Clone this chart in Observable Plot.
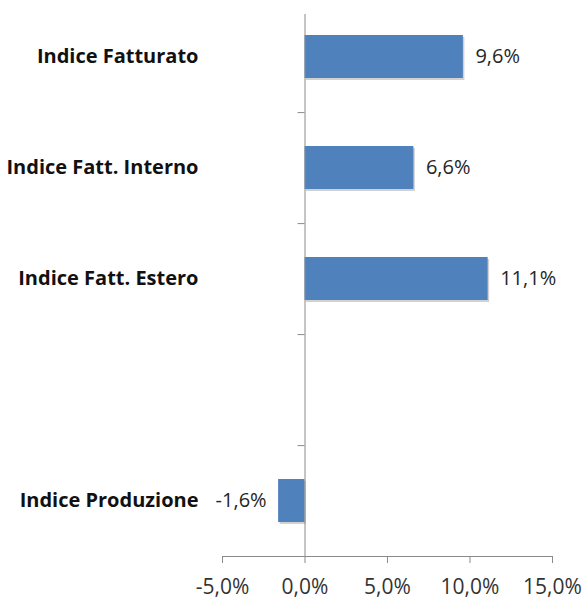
<!DOCTYPE html>
<html><head><meta charset="utf-8">
<script src="https://cdn.jsdelivr.net/npm/d3@7"></script>
<script src="https://cdn.jsdelivr.net/npm/@observablehq/plot@0.6"></script>
<style>body{margin:0;background:#fff;} svg{display:block;}</style>
</head><body><div id="chart"></div>
<script>
const categories = ["Indice Fatturato", "Indice Fatt. Interno", "Indice Fatt. Estero", " ", "Indice Produzione"];
const values = [9.6, 6.6, 11.1, null, -1.6];
const valueLabels = ["9,6%", "6,6%", "11,1%", "", "-1,6%"];
const xTicks = [-5, 0, 5, 10, 15];

const data = categories.map((c, i) => ({cat: c, v: values[i], lab: valueLabels[i]})).filter(d => d.v !== null);
const font = "'Open Sans', sans-serif";
const fmt = d => d.toFixed(1).replace(".", ",") + "%";

const chart = Plot.plot({
  width: 583, height: 599,
  marginLeft: 222, marginRight: 31, marginTop: 0, marginBottom: 43,
  style: {fontFamily: font, fontSize: "20px", background: "#fff", overflow: "visible"},
  x: {domain: [-5, 15], ticks: xTicks, tickFormat: fmt},
  y: {domain: categories, padding: 0},
  marks: [
    Plot.barX(data, {x: "v", y: "cat", fill: "#9a9a9a", fillOpacity: 0.45, insetTop: 34, insetBottom: 34, dx: 1.5, dy: 2}),
    Plot.barX(data, {x: "v", y: "cat", fill: "#4f81bd", insetTop: 34, insetBottom: 34}),
    Plot.ruleX([0], {stroke: "#8a8a8a", insetTop: 14}),
    Plot.ruleY(categories.slice(0, 4), {y: d => d, x1: -0.42, x2: 0, dy: 55.6, stroke: "#8a8a8a"}),
    Plot.frame({anchor: "bottom", stroke: "#8a8a8a"}),
    Plot.axisX({ticks: xTicks, tickFormat: fmt, tickSize: 7, tickPadding: 16, stroke: "#8a8a8a", fill: "#333", fontSize: 21, fontFamily: font, label: null}),
    Plot.axisY({tickSize: 0, tickPadding: 24, fill: "#111", fontWeight: "bold", fontSize: 20, fontFamily: font, label: null}),
    Plot.text(data.filter(d => d.v >= 0), {x: "v", y: "cat", text: "lab", textAnchor: "start", dx: 12,
      fill: "#262626", fontSize: 20, fontFamily: font}),
    Plot.text(data.filter(d => d.v < 0), {x: "v", y: "cat", text: "lab", textAnchor: "end", dx: -12,
      fill: "#262626", fontSize: 20, fontFamily: font})
  ]
});
document.getElementById("chart").appendChild(chart);
</script></body></html>
